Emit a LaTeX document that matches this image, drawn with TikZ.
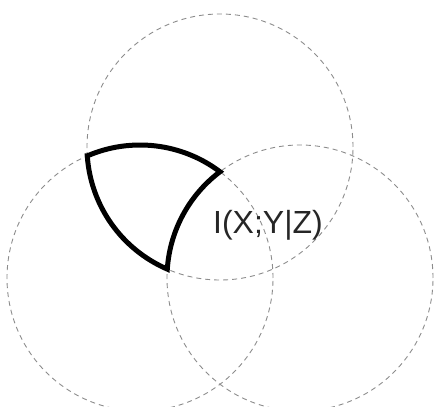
\documentclass[tikz,border=0pt]{standalone}
\usepackage{fontspec}
\setmainfont{Liberation Sans}
\begin{document}
\begin{tikzpicture}[x=1pt,y=1pt,
  setcircle/.style={draw=black!45,line width=0.9pt,dash pattern=on 5pt off 4pt},
  region/.style={draw=black,line width=5pt,line join=miter},
  lbl/.style={font=\fontsize{32}{32}\selectfont,text=black!85,inner sep=0pt}]
\useasboundingbox (0,0) rectangle (434,407);
% centres (y measured upward)
\coordinate (cX) at (220,260);
\coordinate (cY) at (140,129);
\coordinate (cZ) at (300,129);
\draw[setcircle] (cX) circle[radius=133];
\draw[setcircle] (cY) circle[radius=133];
\draw[setcircle] (cZ) circle[radius=133];
% highlighted region: inside X and Y, outside Z
\coordinate (p1) at (87.30,251.11);
\draw[region] (p1)
  arc[start angle=113.34,end angle=53.02,radius=133]
  arc[start angle=126.98,end angle=176.17,radius=133]
  arc[start angle=246.66,end angle=183.83,radius=133] -- cycle;
\node[lbl] (t) at (268,182) {I(X;Y|Z)};
\end{tikzpicture}
\end{document}
